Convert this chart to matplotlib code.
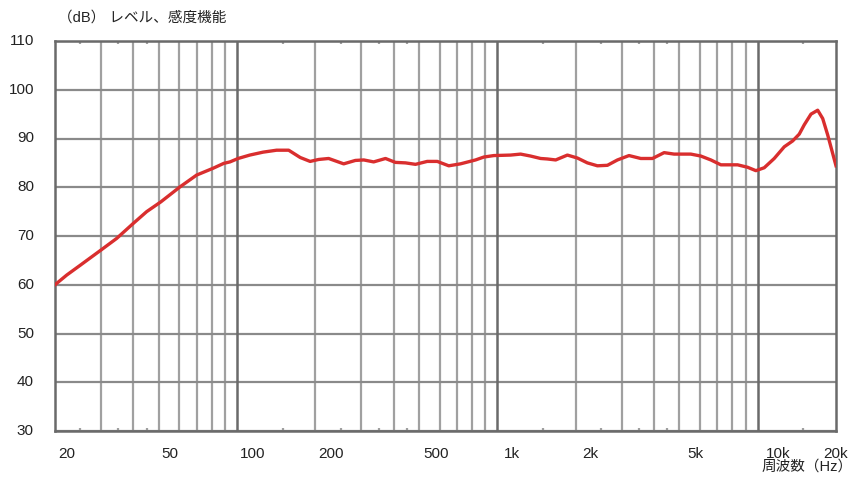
import matplotlib
matplotlib.use("Agg")
import matplotlib.pyplot as plt
import matplotlib.transforms as mtransforms

plt.rcParams['font.family'] = ['Liberation Sans', 'Noto Sans CJK JP', 'DejaVu Sans']

# ---- data ----
freq_hz = [20, 22.2, 25, 30, 34.5, 40, 45, 51, 60.5, 70, 81, 89, 94, 101, 112, 126, 142, 158,
           175, 191, 206, 225, 257, 285, 307, 335, 372, 406, 444, 485, 538, 588, 651, 722,
           825, 888, 970, 1125, 1229, 1342, 1467, 1557, 1676, 1859, 2030, 2218, 2424, 2648,
           2894, 3206, 3557, 3945, 4373, 4777, 5537, 6052, 6612, 7225, 8376, 9150, 9849,
           10600, 11580, 12656, 13630, 14450, 15100, 16030, 17010, 17780, 18590, 20000]
level_db = [60.0, 62.0, 64.0, 67.1, 69.5, 72.6, 75.0, 77.0, 80.1, 82.5, 83.9, 84.9, 85.2, 85.9,
            86.6, 87.2, 87.6, 87.6, 86.1, 85.3, 85.7, 85.9, 84.8, 85.5, 85.6, 85.2, 85.9, 85.1,
            85.0, 84.7, 85.3, 85.3, 84.4, 84.8, 85.6, 86.2, 86.5, 86.6, 86.8, 86.4, 85.9, 85.8,
            85.6, 86.6, 86.0, 85.0, 84.4, 84.5, 85.6, 86.5, 85.9, 85.9, 87.1, 86.8, 86.8, 86.4,
            85.6, 84.6, 84.6, 84.1, 83.4, 84.0, 85.9, 88.3, 89.5, 90.9, 92.8, 95.0, 95.8, 94.1,
            90.7, 84.4]

y_ticks = [30, 40, 50, 60, 70, 80, 90, 100, 110]
x_tick_vals = [20, 50, 100, 200, 500, 1000, 2000, 5000, 10000, 20000]
x_tick_labels = ['20', '50', '100', '200', '500', '1k', '2k', '5k', '10k', '20k']
minor_grid = [30, 40, 50, 60, 70, 80, 90, 200, 300, 400, 500, 600, 700, 800, 900,
              2000, 3000, 4000, 5000, 6000, 7000, 8000, 9000]
decade_grid = [100, 1000, 10000]
small_marks = [25, 35, 45, 150, 250, 350, 450, 1500, 2500, 3500, 4500, 15000]

title_text = '（dB） レベル、感度機能'
xlabel_text = '周波数（Hz）'

# ---- figure ----
fig = plt.figure(figsize=(8.54, 4.79), dpi=100)
ax = fig.add_axes([55 / 854, (479 - 431) / 479, 781 / 854, 390 / 479])
ax.set_xscale('log')
ax.set_xlim(20, 20000)
ax.set_ylim(30, 110)

for v in minor_grid:
    ax.axvline(v, color='#a0a0a0', lw=1.6, zorder=1)
for v in decade_grid:
    ax.axvline(v, color='#6a6a6a', lw=1.8, zorder=1.2)
for v in y_ticks:
    ax.axhline(v, color='#8a8a8a', lw=1.6, zorder=1.1)

# small tick marks at top and bottom
for v in small_marks:
    ax.plot([v, v], [30, 30.6], color='#a0a0a0', lw=1.6, zorder=1, solid_capstyle='butt')
    ax.plot([v, v], [110, 109.4], color='#a0a0a0', lw=1.6, zorder=1, solid_capstyle='butt')

ax.plot(freq_hz, level_db, color='#d92e2e', lw=2.4, zorder=3, solid_joinstyle='round')

for s in ax.spines.values():
    s.set_color('#6a6a6a')
    s.set_linewidth(1.8)

ax.set_xticks([])
ax.set_yticks([])
ax.minorticks_off()

# y tick labels
for v in y_ticks:
    ax.text(-0.027, v, str(v), transform=mtransforms.blended_transform_factory(ax.transAxes, ax.transData),
            ha='right', va='center', fontsize=11, color='#222222')

# x tick labels (left aligned near their lines)
trans = mtransforms.blended_transform_factory(ax.transData, ax.transAxes)
offsets = [2, 2, 2, 2, 3, 5, 5, 6, 6, 0]
for v, lab, off in zip(x_tick_vals, x_tick_labels, offsets):
    ha = 'center' if lab == '20k' else 'left'
    ax.text(v, -0.04, lab, transform=trans + mtransforms.ScaledTranslation(off / 72, 0, fig.dpi_scale_trans),
            ha=ha, va='top', fontsize=11, color='#222222')

fig.text(58 / 854, 1 - 18 / 479, title_text, ha='left', va='center', fontsize=10.5, color='#222222')
fig.text(853 / 854, 1 - 467 / 479, xlabel_text, ha='right', va='center', fontsize=10.5, color='#222222')

fig.savefig('out.png', dpi=100)
